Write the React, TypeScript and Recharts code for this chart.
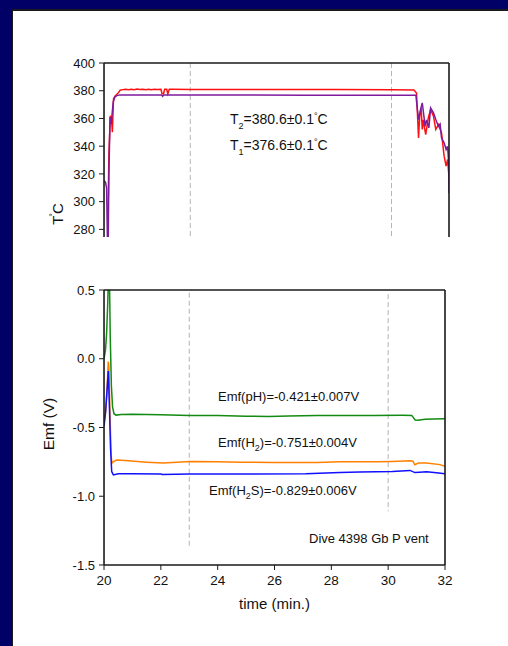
import { LineChart, Line, XAxis, YAxis, ReferenceLine } from 'recharts';

const FONT = '"Liberation Sans", Arial, Helvetica, sans-serif';
const INK = '#111';
// axes need a non-zero box to render; keep it negligible so the margins set the plot area
const THIN = 0.01;

// time axis
const evenMinutes = [20, 22, 24, 26, 28, 30, 32];
const oddMinutes = [21, 23, 25, 27, 29, 31];
const guideTimes = [23, 30];
// ends of the dashed guides in the Emf panel (V)
const guideTopsEmf = [0.48, 0.47];
const guideEndsEmf = [-1.37, -1.11];

// temperature axis
const tempMajor = [280, 300, 320, 340, 360, 380, 400];
const tempMinor = [290, 310, 330, 350, 370, 390];

// emf axis
const emfMajor = [-1.5, -1, -0.5, 0, 0.5];
const emfMinor = [-1.4, -1.3, -1.2, -1.1, -0.9, -0.8, -0.7, -0.6, -0.4, -0.3, -0.2, -0.1, 0.1, 0.2, 0.3, 0.4];

// [time (min), value]
const t2Rows = [
  [20.0, 262], [20.12, 262], [20.17, 335], [20.22, 362], [20.26, 360], [20.29, 350], [20.33, 374],
  [20.38, 376], [20.45, 377.5], [20.5, 378.5], [20.56, 380.4], [20.65, 380.8], [20.75, 381.1],
  [20.85, 380.8], [20.95, 381.1], [21.05, 380.8], [21.15, 381.2], [21.25, 380.9], [21.35, 381.1],
  [21.45, 380.8], [21.55, 381.1], [21.65, 380.8], [21.75, 381.1], [21.85, 380.9], [21.98, 381.1],
  [22.02, 377.8], [22.07, 377.8], [22.11, 381.0], [22.18, 381.0], [22.22, 377.8], [22.27, 381.0],
  [22.4, 381.0], [23, 380.9], [25, 380.8], [28, 380.8], [30, 380.7], [30.78, 380.5], [30.87, 378.4],
  [30.94, 346], [30.98, 361.6], [31.03, 367.6], [31.07, 352], [31.1, 359], [31.19, 348.4],
  [31.28, 360.4], [31.36, 366.4], [31.46, 361.6], [31.54, 352], [31.63, 355.6], [31.74, 349.6],
  [31.83, 332.8], [31.9, 325.6], [31.95, 330.4], [32.0, 318],
];

const t1Rows = [
  [20.0, 315], [20.05, 314], [20.09, 310], [20.12, 270], [20.14, 262], [20.17, 320], [20.21, 361],
  [20.25, 356], [20.28, 363], [20.32, 372], [20.38, 375.5], [20.45, 376.5], [20.55, 377], [21, 377],
  [22.0, 377], [22.04, 376], [22.08, 377], [24, 376.9], [27, 376.8], [30, 376.8], [30.85, 376.7],
  [30.87, 372.4], [30.94, 359.2], [31.01, 366.4], [31.07, 371.2], [31.17, 354.4], [31.22, 359],
  [31.3, 353.2], [31.36, 367.6], [31.46, 364], [31.54, 359.2], [31.63, 354.4], [31.69, 356],
  [31.74, 346], [31.83, 342.4], [31.9, 337.6], [31.95, 340], [31.99, 328], [32.0, 306],
];

const phRows = [
  [20.0, 0.0], [20.05, 0.06], [20.09, 0.18], [20.13, 0.4], [20.16, 0.62], [20.19, 0.6], [20.22, 0.15],
  [20.26, -0.2], [20.3, -0.35], [20.35, -0.4], [20.42, -0.41], [20.6, -0.405], [21.0, -0.403],
  [22.0, -0.408], [23.0, -0.413], [24.0, -0.413], [25.0, -0.418], [25.8, -0.42], [26.5, -0.416],
  [27.5, -0.412], [28.5, -0.413], [29.5, -0.412], [30.5, -0.411], [30.83, -0.412], [30.95, -0.445],
  [31.05, -0.447], [31.3, -0.44], [31.6, -0.438], [32, -0.436],
];

const h2Rows = [
  [20.0, -0.46], [20.06, -0.38], [20.11, -0.2], [20.15, -0.02], [20.17, -0.05], [20.21, -0.4],
  [20.25, -0.7], [20.28, -0.76], [20.33, -0.748], [20.45, -0.737], [20.75, -0.74], [21.5, -0.752],
  [22.09, -0.759], [23.03, -0.747], [24.0, -0.75], [24.8, -0.752], [25.95, -0.755], [27.5, -0.755],
  [28.3, -0.75], [29.6, -0.75], [30.15, -0.747], [30.77, -0.742], [30.87, -0.745], [30.94, -0.771],
  [31.06, -0.759], [31.35, -0.759], [31.82, -0.77], [32, -0.783],
];

const h2sRows = [
  [20.0, -0.49], [20.05, -0.4], [20.1, -0.25], [20.15, -0.09], [20.19, -0.35], [20.23, -0.65],
  [20.27, -0.82], [20.33, -0.845], [20.5, -0.836], [21.0, -0.836], [22.0, -0.838], [22.05, -0.842],
  [23.0, -0.838], [25.0, -0.838], [27.1, -0.836], [28.3, -0.828], [29.0, -0.824], [30.15, -0.82],
  [30.77, -0.812], [30.94, -0.828], [31.1, -0.825], [31.35, -0.822], [31.7, -0.83], [32, -0.836],
];

const toPoints = (rows: number[][]) => rows.map(([t, v]) => ({ t, v }));

const frame = { stroke: '#1a1a1a', strokeWidth: 1.6 };
const tickStroke = { stroke: '#1a1a1a', strokeWidth: 1 };
const tickText = { fontSize: 13, fill: INK, fontFamily: FONT };

function TempChart() {
  return (
    <LineChart width={508} height={250} margin={{ top: 63, right: 59, bottom: 13, left: 104 }}>
      <XAxis xAxisId="top" orientation="top" type="number" dataKey="t" domain={[20, 32]} allowDataOverflow
        ticks={evenMinutes} interval={0} mirror tickSize={5} tick={false} height={THIN}
        axisLine={frame} tickLine={tickStroke} />
      <XAxis xAxisId="topMinor" orientation="top" type="number" dataKey="t" domain={[20, 32]} allowDataOverflow
        ticks={oddMinutes} interval={0} mirror tickSize={3} tick={false} height={THIN}
        axisLine={false} tickLine={tickStroke} />
      <YAxis yAxisId="left" type="number" domain={[274.5, 400]} allowDataOverflow ticks={tempMajor}
        interval={0} tickSize={5} tickMargin={4} width={THIN} tick={tickText}
        axisLine={frame} tickLine={tickStroke} />
      <YAxis yAxisId="leftMinor" type="number" domain={[274.5, 400]} allowDataOverflow ticks={tempMinor}
        interval={0} tickSize={3} width={THIN} tick={false} axisLine={false} tickLine={tickStroke} />
      <YAxis yAxisId="right" orientation="right" type="number" domain={[274.5, 400]} allowDataOverflow
        ticks={tempMajor} interval={0} mirror tickSize={5} width={THIN} tick={false}
        axisLine={frame} tickLine={tickStroke} />
      <YAxis yAxisId="rightMinor" orientation="right" type="number" domain={[274.5, 400]} allowDataOverflow
        ticks={tempMinor} interval={0} mirror tickSize={3} width={THIN} tick={false}
        axisLine={false} tickLine={tickStroke} />
      {guideTimes.map((t) => (
        <ReferenceLine key={t} xAxisId="top" yAxisId="left" x={t} stroke="#b4b4b4" strokeDasharray="5 3" />
      ))}
      <Line xAxisId="top" yAxisId="left" data={toPoints(t2Rows)} dataKey="v" type="linear"
        stroke="#ff1010" strokeWidth={1.5} dot={false} isAnimationActive={false} />
      <Line xAxisId="top" yAxisId="left" data={toPoints(t1Rows)} dataKey="v" type="linear"
        stroke="#7e1a9e" strokeWidth={1.5} dot={false} isAnimationActive={false} />
    </LineChart>
  );
}

function EmfChart() {
  return (
    <LineChart width={508} height={646} margin={{ top: 290, right: 63, bottom: 81, left: 104 }}>
      <XAxis xAxisId="bottom" type="number" dataKey="t" domain={[20, 32]} allowDataOverflow
        ticks={evenMinutes} interval={0} tickSize={5} tickMargin={5} height={THIN}
        tick={{ ...tickText, fontSize: 13.5 }} axisLine={frame} tickLine={tickStroke} />
      <XAxis xAxisId="bottomMinor" type="number" dataKey="t" domain={[20, 32]} allowDataOverflow
        ticks={oddMinutes} interval={0} tickSize={3} height={THIN} tick={false}
        axisLine={false} tickLine={tickStroke} />
      <XAxis xAxisId="top" orientation="top" type="number" dataKey="t" domain={[20, 32]} allowDataOverflow
        ticks={evenMinutes} interval={0} mirror tickSize={5} tick={false} height={THIN}
        axisLine={frame} tickLine={tickStroke} />
      <XAxis xAxisId="topMinor" orientation="top" type="number" dataKey="t" domain={[20, 32]} allowDataOverflow
        ticks={oddMinutes} interval={0} mirror tickSize={3} tick={false} height={THIN}
        axisLine={false} tickLine={tickStroke} />
      <YAxis yAxisId="left" type="number" domain={[-1.5, 0.5]} allowDataOverflow ticks={emfMajor}
        interval={0} tickSize={5} tickMargin={4} width={THIN} tick={tickText}
        tickFormatter={(v: number) => v.toFixed(1)} axisLine={frame} tickLine={tickStroke} />
      <YAxis yAxisId="leftMinor" type="number" domain={[-1.5, 0.5]} allowDataOverflow ticks={emfMinor}
        interval={0} tickSize={3} width={THIN} tick={false} axisLine={false} tickLine={tickStroke} />
      <YAxis yAxisId="right" orientation="right" type="number" domain={[-1.5, 0.5]} allowDataOverflow
        ticks={emfMajor} interval={0} mirror tickSize={5} width={THIN} tick={false}
        axisLine={frame} tickLine={tickStroke} />
      <YAxis yAxisId="rightMinor" orientation="right" type="number" domain={[-1.5, 0.5]} allowDataOverflow
        ticks={emfMinor} interval={0} mirror tickSize={3} width={THIN} tick={false}
        axisLine={false} tickLine={tickStroke} />
      {guideTimes.map((t, i) => (
        <ReferenceLine key={t} xAxisId="bottom" yAxisId="left" stroke="#b4b4b4" strokeDasharray="5 3"
          segment={[{ x: t, y: guideTopsEmf[i] }, { x: t, y: guideEndsEmf[i] }]} />
      ))}
      <Line xAxisId="bottom" yAxisId="left" data={toPoints(phRows)} dataKey="v" type="linear"
        stroke="#138a13" strokeWidth={1.5} dot={false} isAnimationActive={false} />
      <Line xAxisId="bottom" yAxisId="left" data={toPoints(h2Rows)} dataKey="v" type="linear"
        stroke="#ff8000" strokeWidth={1.5} dot={false} isAnimationActive={false} />
      <Line xAxisId="bottom" yAxisId="left" data={toPoints(h2sRows)} dataKey="v" type="linear"
        stroke="#1010ff" strokeWidth={1.5} dot={false} isAnimationActive={false} />
    </LineChart>
  );
}

function Annotations() {
  return (
    <svg width={508} height={646} fontFamily={FONT} fill={INK}
      style={{ position: 'absolute', left: 0, top: 0, pointerEvents: 'none' }}>
      <text transform="translate(63,214) rotate(-90)" textAnchor="middle" fontSize={15}>
        T<tspan fontSize={9} dy={-7} dx={-1}>°</tspan><tspan dy={7} dx={-1}>C</tspan>
      </text>
      <text transform="translate(54,424) rotate(-90)" textAnchor="middle" fontSize={15.5}>Emf (V)</text>
      <text x={274.5} y={609} textAnchor="middle" fontSize={15}>time (min.)</text>

      <text x={230} y={124} fontSize={14}>
        T<tspan fontSize={9} dy={5}>2</tspan><tspan dy={-5}>=380.6±0.1</tspan>
        <tspan fontSize={9} dy={-5}>°</tspan><tspan dy={5}>C</tspan>
      </text>
      <text x={230} y={150} fontSize={14}>
        T<tspan fontSize={9} dy={5}>1</tspan><tspan dy={-5}>=376.6±0.1</tspan>
        <tspan fontSize={9} dy={-5}>°</tspan><tspan dy={5}>C</tspan>
      </text>

      <text x={218} y={400.5} fontSize={13}>Emf(pH)=-0.421±0.007V</text>
      <text x={218} y={447} fontSize={13}>
        Emf(H<tspan fontSize={9} dy={4}>2</tspan><tspan dy={-4}>)=-0.751±0.004V</tspan>
      </text>
      <text x={209} y={494.5} fontSize={13}>
        Emf(H<tspan fontSize={9} dy={4}>2</tspan><tspan dy={-4}>S)=-0.829±0.006V</tspan>
      </text>
      <text x={309} y={542.5} fontSize={13}>Dive 4398 Gb P vent</text>
    </svg>
  );
}

export default function App() {
  return (
    <div style={{ position: 'absolute', left: 0, top: 0, width: 508, height: 646, overflow: 'hidden', background: '#000066', fontFamily: FONT }}>
      <div style={{ position: 'absolute', left: 12, top: 9, right: 0, bottom: 0, background: '#1a1a1a' }} />
      <div style={{ position: 'absolute', left: 13, top: 11, right: 0, bottom: 0, background: '#ffffff' }} />
      <div style={{ position: 'absolute', left: 0, top: 0 }}>
        <EmfChart />
      </div>
      <div style={{ position: 'absolute', left: 0, top: 0 }}>
        <TempChart />
      </div>
      <Annotations />
    </div>
  );
}
